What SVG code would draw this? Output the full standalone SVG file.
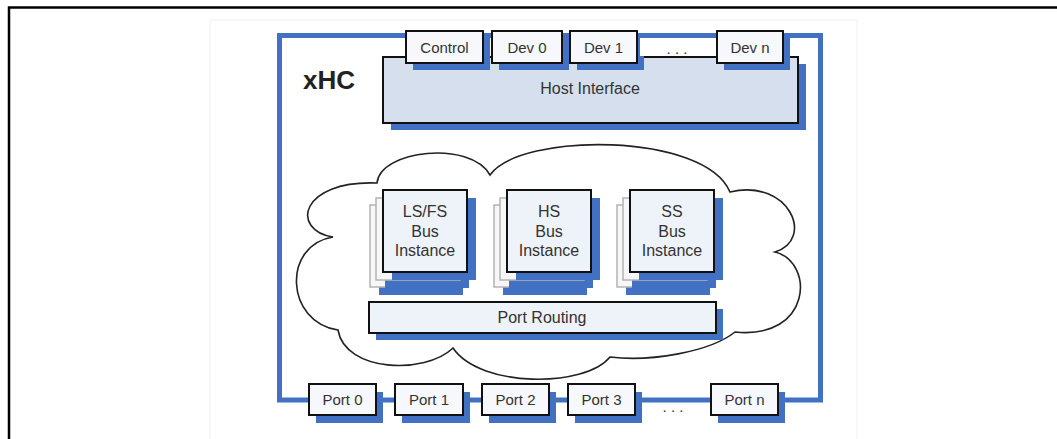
<svg xmlns="http://www.w3.org/2000/svg" width="1057" height="439" viewBox="0 0 1057 439">
<style>
.lbl{font-family:"Liberation Sans",Arial,sans-serif;font-size:15px;fill:#333;text-anchor:middle}
.big{font-family:"Liberation Sans",Arial,sans-serif;font-size:16px;fill:#333;text-anchor:middle}
.sh{fill:#4270c2}
.tab{fill:#f6f8fc;stroke:#111;stroke-width:2}
.bus{fill:#eef2f9;stroke:#111;stroke-width:2}
.back{fill:#f7f7f7;stroke:#b4b4b4;stroke-width:1.5}
</style>
<rect width="1057" height="439" fill="#fff"/>
<path d="M9,439 V7.5 H1057" fill="none" stroke="#000" stroke-width="2.5"/>
<path d="M210,439 V20 H857 V439" fill="none" stroke="#f0f0f0" stroke-width="1"/>

<g id="frame">
<rect x="279.5" y="35.5" width="541" height="364.5" fill="none" stroke="#4270c2" stroke-width="5"/>
<text x="303" y="89" font-family="Liberation Sans,Arial,sans-serif" font-size="26" font-weight="bold" fill="#222">xHC</text>
</g>

<g id="host-interface">
<rect class="sh" x="391" y="64" width="415" height="66"/>
<rect x="383" y="57" width="415" height="66" fill="#d5dfee" stroke="#111" stroke-width="2"/>
<text class="big" x="590" y="94">Host Interface</text>
</g>

<g id="tab-control">
<rect class="sh" x="413" y="38" width="77" height="32"/>
<rect class="tab" x="406" y="31" width="77" height="32"/>
<text class="lbl" x="444.5" y="53">Control</text>
</g>
<g id="tab-dev0">
<rect class="sh" x="499" y="38" width="70" height="32"/>
<rect class="tab" x="492" y="31" width="70" height="32"/>
<text class="lbl" x="527" y="53">Dev 0</text>
</g>
<g id="tab-dev1">
<rect class="sh" x="577" y="38" width="67" height="32"/>
<rect class="tab" x="570" y="31" width="67" height="32"/>
<text class="lbl" x="603.5" y="53">Dev 1</text>
</g>
<g id="tab-dots">
<rect x="640" y="38" width="76" height="18" fill="#fff"/>
<text class="lbl" x="677" y="54">. . .</text>
</g>
<g id="tab-devn">
<rect class="sh" x="724" y="38" width="66" height="32"/>
<rect class="tab" x="717" y="31" width="66" height="32"/>
<text class="lbl" x="750" y="53">Dev n</text>
</g>

<g id="cloud">
<path d="M377,183 C380,150 470,140 490,175 C520,132 705,132 730,192 C790,178 815,240 775,252 C815,262 812,340 735,332 C710,352 650,362 610,357 C585,388 480,388 453,348 C425,375 345,372 338,330 C285,322 282,245 333,237 C290,230 300,180 377,183 Z" fill="#fff" stroke="#222" stroke-width="1.6"/>
</g>

<g id="bus-lsfs">
<rect class="sh" x="379" y="213" width="84" height="82"/>
<rect class="back" x="370" y="205" width="84" height="82"/>
<rect class="sh" x="385" y="206" width="84" height="82"/>
<rect class="back" x="376" y="198" width="84" height="82"/>
<rect class="sh" x="392" y="198" width="84" height="82"/>
<rect class="bus" x="383" y="190" width="84" height="82"/>
<text class="big" x="425" y="217">LS/FS</text>
<text class="big" x="425" y="237">Bus</text>
<text class="big" x="425" y="256">Instance</text>
</g>
<g id="bus-hs">
<rect class="sh" x="503" y="213" width="84" height="82"/>
<rect class="back" x="494" y="205" width="84" height="82"/>
<rect class="sh" x="509" y="206" width="84" height="82"/>
<rect class="back" x="500" y="198" width="84" height="82"/>
<rect class="sh" x="516" y="198" width="84" height="82"/>
<rect class="bus" x="507" y="190" width="84" height="82"/>
<text class="big" x="549" y="217">HS</text>
<text class="big" x="549" y="237">Bus</text>
<text class="big" x="549" y="256">Instance</text>
</g>
<g id="bus-ss">
<rect class="sh" x="626" y="213" width="84" height="82"/>
<rect class="back" x="617" y="205" width="84" height="82"/>
<rect class="sh" x="632" y="206" width="84" height="82"/>
<rect class="back" x="623" y="198" width="84" height="82"/>
<rect class="sh" x="639" y="198" width="84" height="82"/>
<rect class="bus" x="630" y="190" width="84" height="82"/>
<text class="big" x="672" y="217">SS</text>
<text class="big" x="672" y="237">Bus</text>
<text class="big" x="672" y="256">Instance</text>
</g>

<g id="port-routing">
<rect class="sh" x="376" y="309" width="347" height="31"/>
<rect class="bus" x="369" y="302" width="347" height="31"/>
<text class="big" x="542" y="323">Port Routing</text>
</g>

<g id="port0">
<rect class="sh" x="316" y="392" width="67" height="31"/>
<rect class="tab" x="309" y="384" width="67" height="31"/>
<text class="lbl" x="342.5" y="405">Port 0</text>
</g>
<g id="port1">
<rect class="sh" x="402" y="392" width="68" height="31"/>
<rect class="tab" x="395" y="384" width="68" height="31"/>
<text class="lbl" x="429" y="405">Port 1</text>
</g>
<g id="port2">
<rect class="sh" x="489" y="392" width="67" height="31"/>
<rect class="tab" x="482" y="384" width="67" height="31"/>
<text class="lbl" x="515.5" y="405">Port 2</text>
</g>
<g id="port3">
<rect class="sh" x="575" y="392" width="67" height="31"/>
<rect class="tab" x="568" y="384" width="67" height="31"/>
<text class="lbl" x="601.5" y="405">Port 3</text>
</g>
<g id="port-dots">
<text class="lbl" x="673" y="412">. . .</text>
</g>
<g id="portn">
<rect class="sh" x="718" y="392" width="67" height="31"/>
<rect class="tab" x="711" y="384" width="67" height="31"/>
<text class="lbl" x="744.5" y="405">Port n</text>
</g>
</svg>
